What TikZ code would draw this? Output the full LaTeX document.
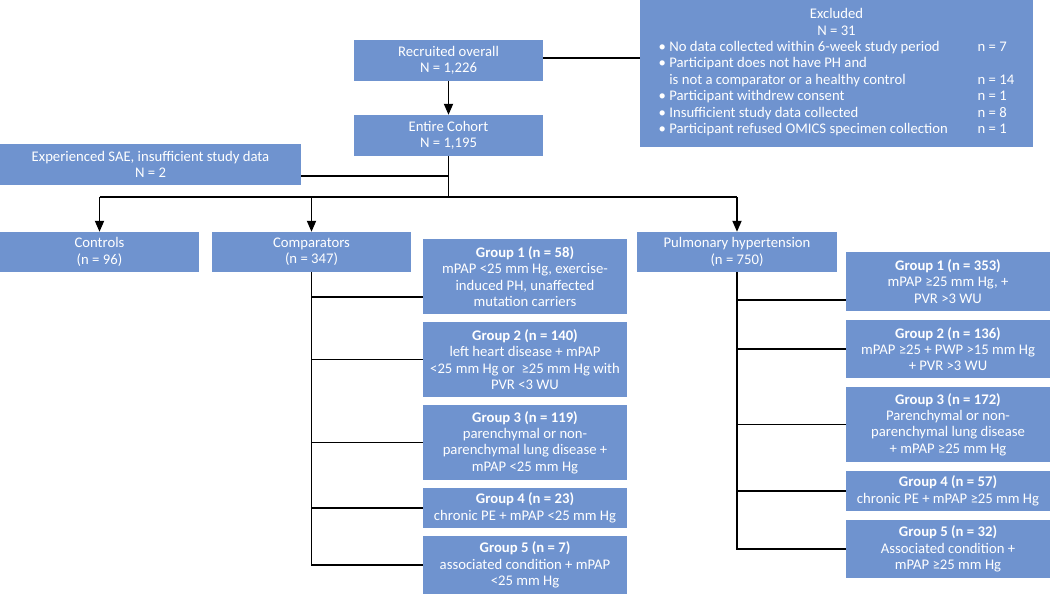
\documentclass[tikz,border=0pt]{standalone}
\usepackage{fontspec}
\setmainfont{Carlito}
\usetikzlibrary{arrows.meta}
\definecolor{boxblue}{RGB}{111,147,207}
\begin{document}
\begin{tikzpicture}[x=1pt,y=-1pt,
 box/.style={fill=boxblue, text=white, align=center, inner sep=0pt, font=\fontsize{14.7}{16.4}\selectfont},
 conn/.style={draw=black, line width=1.8pt},
 arr/.style={conn, -{Triangle[length=11pt,width=9pt]}}]
\useasboundingbox (0,0) rectangle (1050,594);

\node[box,minimum width=393pt,minimum height=147pt] (excl) at (836.5,73.5) {Excluded\\N = 31\\\begin{tabular}[t]{@{}p{319pt}@{}l@{}}
\textbullet\ No data collected within 6-week study period & n = 7\\
\textbullet\ Participant does not have PH and & \\
\hphantom{\textbullet\ }is not a comparator or a healthy control & n = 14\\
\textbullet\ Participant withdrew consent & n = 1\\
\textbullet\ Insufficient study data collected & n = 8\\
\textbullet\ Participant refused OMICS specimen collection & n = 1
\end{tabular}};

\node[box,minimum width=189pt,minimum height=41pt] (rec) at (448.5,60.5) {Recruited overall\\N = 1,226};
\node[box,minimum width=189pt,minimum height=41pt] (coh) at (448.5,135.5) {Entire Cohort\\N = 1,195};
\node[box,minimum width=301pt,minimum height=41pt] (sae) at (150.5,164.5) {Experienced SAE, insufficient study data\\N = 2};

\node[box,minimum width=199pt,minimum height=40pt] (ctrl) at (99.5,252) {Controls\\(n = 96)};
\node[box,minimum width=199pt,minimum height=40pt] (comp) at (311.5,252) {Comparators\\(n = 347)};
\node[box,minimum width=200pt,minimum height=40pt] (ph) at (737,252) {Pulmonary hypertension\\(n = 750)};

\node[box,minimum width=204pt,minimum height=75pt] (cg1) at (525,276.5) {\textbf{Group 1 (n = 58)}\\mPAP <25 mm Hg, exercise-\\induced PH, unaffected\\mutation carriers};
\node[box,minimum width=204pt,minimum height=75pt] (cg2) at (525,359.5) {\textbf{Group 2 (n = 140)}\\left heart disease + mPAP\\<25 mm Hg or\ \ ≥25 mm Hg with\\PVR <3 WU};
\node[box,minimum width=204pt,minimum height=75pt] (cg3) at (525,442.5) {\textbf{Group 3 (n = 119)}\\parenchymal or non-\\parenchymal lung disease +\\mPAP <25 mm Hg};
\node[box,minimum width=204pt,minimum height=40pt] (cg4) at (525,508) {\textbf{Group 4 (n = 23)}\\chronic PE + mPAP <25 mm Hg};
\node[box,minimum width=204pt,minimum height=58pt] (cg5) at (525,565) {\textbf{Group 5 (n = 7)}\\associated condition + mPAP\\<25 mm Hg};

\node[box,minimum width=204pt,minimum height=59pt] (pg1) at (948,281.5) {\textbf{Group 1 (n = 353)}\\mPAP ≥25 mm Hg, +\\PVR >3 WU};
\node[box,minimum width=204pt,minimum height=58pt] (pg2) at (948,349) {\textbf{Group 2 (n = 136)}\\mPAP ≥25 + PWP >15 mm Hg\\+ PVR >3 WU};
\node[box,minimum width=204pt,minimum height=75pt] (pg3) at (948,424.5) {\textbf{Group 3 (n = 172)}\\Parenchymal or non-\\parenchymal lung disease\\+ mPAP ≥25 mm Hg};
\node[box,minimum width=204pt,minimum height=40pt] (pg4) at (948,491) {\textbf{Group 4 (n = 57)}\\chronic PE + mPAP ≥25 mm Hg};
\node[box,minimum width=204pt,minimum height=58pt] (pg5) at (948,549) {\textbf{Group 5 (n = 32)}\\Associated condition +\\mPAP ≥25 mm Hg};

\coordinate (j0) at (600,58);
\coordinate (j1) at (448.5,176);
\coordinate (bus) at (448.5,197);
\coordinate (cb1) at (311.5,297);
\coordinate (pb1) at (737,300);

\draw[conn] (rec.east |- j0) -- (excl.west |- j0);
\draw[arr] (rec.south) -- (coh.north);
\draw[conn] (coh.south) -- (bus);
\draw[conn] (sae.east |- j1) -- (j1);
\draw[conn] (ctrl.north |- bus) -- (ph.north |- bus);
\draw[arr] (ctrl.north |- bus) -- (ctrl.north);
\draw[arr] (comp.north |- bus) -- (comp.north);
\draw[arr] (ph.north |- bus) -- (ph.north);

\draw[conn] (comp.south) |- (cg5.west);
\draw[conn] (cb1) -- (cg1.west |- cb1);
\draw[conn] (comp.south |- cg2.west) -- (cg2.west);
\draw[conn] (comp.south |- cg3.west) -- (cg3.west);
\draw[conn] (comp.south |- cg4.west) -- (cg4.west);

\draw[conn] (ph.south) |- (pg5.west);
\draw[conn] (pb1) -- (pg1.west |- pb1);
\draw[conn] (ph.south |- pg2.west) -- (pg2.west);
\draw[conn] (ph.south |- pg3.west) -- (pg3.west);
\draw[conn] (ph.south |- pg4.west) -- (pg4.west);
\end{tikzpicture}
\end{document}
